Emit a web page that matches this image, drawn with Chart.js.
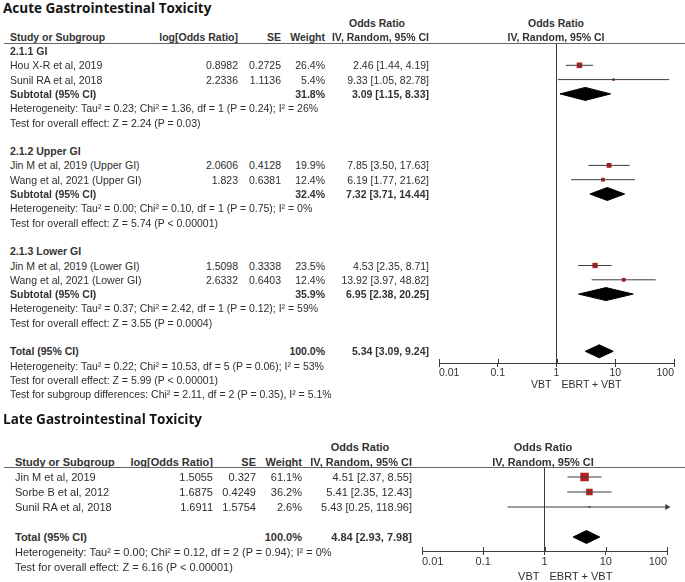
<!DOCTYPE html>
<html>
<head>
<meta charset="utf-8">
<script src="https://cdn.jsdelivr.net/npm/chart.js@4.4.1/dist/chart.umd.min.js"></script>
<style>
  html, body { margin: 0; padding: 0; background: #fff; }
  body { width: 685px; height: 582px; position: relative; overflow: hidden;
         font-family: "Liberation Sans", Arial, sans-serif; color: #2e2e2e; }
  .t { position: absolute; white-space: nowrap; line-height: 13px; transform: translateY(-50%); }
  .b { font-weight: bold; color: #333; }
  .title { position: absolute; white-space: nowrap; font-family: "Open Sans", sans-serif;
           font-weight: bold; font-size: 13.5px; color: #151515; transform: translateY(-50%); }
  .rule { position: absolute; height: 1px; background: #666; }
  canvas { position: absolute; }
</style>
</head>
<body>
<canvas id="acuteChart"></canvas>
<canvas id="lateChart"></canvas>
<script>
// ---- acute GI toxicity ----
const ACUTE_STUDY = ['Hou X-R et al, 2019', 'Sunil RA et al, 2018', 'Jin M et al, 2019 (Upper GI)',
  'Wang et al, 2021 (Upper GI)', 'Jin M et al, 2019 (Lower GI)', 'Wang et al, 2021 (Lower GI)'];
const ACUTE_GROUP = [0, 0, 1, 1, 2, 2];
const ACUTE_LOG_OR = [0.8982, 2.2336, 2.0606, 1.823, 1.5098, 2.6332];
const ACUTE_SE = [0.2725, 1.1136, 0.4128, 0.6381, 0.3338, 0.6403];
const ACUTE_WEIGHT = [26.4, 5.4, 19.9, 12.4, 23.5, 12.4];
const ACUTE_OR = [2.46, 9.33, 7.85, 6.19, 4.53, 13.92];
const ACUTE_LO = [1.44, 1.05, 3.50, 1.77, 2.35, 3.97];
const ACUTE_HI = [4.19, 82.78, 17.63, 21.62, 8.71, 48.82];

const ACUTE_SUB_NAME = ['2.1.1 GI', '2.1.2 Upper GI', '2.1.3 Lower GI'];
const ACUTE_SUB_WEIGHT = [31.8, 32.4, 35.9];
const ACUTE_SUB_OR = [3.09, 7.32, 6.95];
const ACUTE_SUB_LO = [1.15, 3.71, 2.38];
const ACUTE_SUB_HI = [8.33, 14.44, 20.25];
const ACUTE_SUB_HET = [
  'Heterogeneity: Tau² = 0.23; Chi² = 1.36, df = 1 (P = 0.24); I² = 26%',
  'Heterogeneity: Tau² = 0.00; Chi² = 0.10, df = 1 (P = 0.75); I² = 0%',
  'Heterogeneity: Tau² = 0.37; Chi² = 2.42, df = 1 (P = 0.12); I² = 59%'];
const ACUTE_SUB_TEST = [
  'Test for overall effect: Z = 2.24 (P = 0.03)',
  'Test for overall effect: Z = 5.74 (P < 0.00001)',
  'Test for overall effect: Z = 3.55 (P = 0.0004)'];

const ACUTE_TOTAL = [5.34, 3.09, 9.24]; // OR, lower, upper
const ACUTE_TOTAL_NOTES = [
  'Heterogeneity: Tau² = 0.22; Chi² = 10.53, df = 5 (P = 0.06); I² = 53%',
  'Test for overall effect: Z = 5.99 (P < 0.00001)',
  'Test for subgroup differences: Chi² = 2.11, df = 2 (P = 0.35), I² = 5.1%'];

// ---- late GI toxicity ----
const LATE_STUDY = ['Jin M et al, 2019', 'Sorbe B et al, 2012', 'Sunil RA et al, 2018'];
const LATE_LOG_OR = [1.5055, 1.6875, 1.6911];
const LATE_SE = [0.327, 0.4249, 1.5754];
const LATE_WEIGHT = [61.1, 36.2, 2.6];
const LATE_OR = [4.51, 5.41, 5.43];
const LATE_LO = [2.37, 2.35, 0.25];
const LATE_HI = [8.55, 12.43, 118.96];
const LATE_TOTAL = [4.84, 2.93, 7.98];
const LATE_TOTAL_NOTES = [
  'Heterogeneity: Tau² = 0.00; Chi² = 0.12, df = 2 (P = 0.94); I² = 0%',
  'Test for overall effect: Z = 6.16 (P < 0.00001)'];

const OR_TICKS = [0.01, 0.1, 1, 10, 100];
const FAVOURS = ['VBT', 'EBRT + VBT'];

// layout (pixels)
const PAGE_W = 685;
const LINE = '#3c3c3c';
const SQUARE = '#b3221f';
const acuteL = { title: 'Acute Gastrointestinal Toxicity', titleY: 8, headY: [23, 37], rule: 43,
  row0: 51, rowH: 14.3, font: 10.5,
  cols: { study: 10, logor: 238, se: 281, weight: 325, or: 429, orHead: 377 },
  plotHead: 556, axisL: 439, axisR: 674, plotTop: 43, plotBottom: 363, favY: 384 };
const lateL = { title: 'Late Gastrointestinal Toxicity', titleY: 419, headY: [447, 462], rule: 467,
  row0: 477, rowH: 15, font: 11,
  cols: { study: 15, logor: 213, se: 256, weight: 302, or: 412, orHead: 360 },
  plotHead: 543, axisL: 422, axisR: 667, plotTop: 467, plotBottom: 551, favY: 576 };

function txt(s, x, y, align, size, bold) {
  const d = document.createElement('div');
  d.className = 't' + (bold ? ' b' : '');
  d.textContent = s;
  d.style.fontSize = size + 'px';
  d.style.top = y + 'px';
  if (align === 'right') d.style.right = (PAGE_W - x) + 'px';
  else if (align === 'center') { d.style.left = x + 'px'; d.style.transform = 'translate(-50%,-50%)'; }
  else d.style.left = x + 'px';
  document.body.appendChild(d);
}

function ciText(or, lo, hi) {
  return or.toFixed(2) + ' [' + lo.toFixed(2) + ', ' + hi.toFixed(2) + ']';
}

function header(L) {
  const t = document.createElement('div');
  t.className = 'title';
  t.textContent = L.title;
  t.style.left = '3px';
  t.style.top = L.titleY + 'px';
  document.body.appendChild(t);
  const c = L.cols, f = L.font;
  txt('Odds Ratio', c.orHead, L.headY[0], 'center', f, true);
  txt('Odds Ratio', L.plotHead, L.headY[0], 'center', f, true);
  txt('Study or Subgroup', c.study, L.headY[1], 'left', f, true);
  txt('log[Odds Ratio]', c.logor, L.headY[1], 'right', f, true);
  txt('SE', c.se, L.headY[1], 'right', f, true);
  txt('Weight', c.weight, L.headY[1], 'right', f, true);
  txt('IV, Random, 95% CI', c.or, L.headY[1], 'right', f, true);
  txt('IV, Random, 95% CI', L.plotHead, L.headY[1], 'center', f, true);
  const r = document.createElement('div');
  r.className = 'rule';
  r.style.left = '4px';
  r.style.width = (PAGE_W - 4) + 'px';
  r.style.top = L.rule + 'px';
  document.body.appendChild(r);
  const one = L.axisL + (L.axisR - L.axisL) / 2;
  txt(FAVOURS[0], one - 5, L.favY, 'right', f, false);
  txt(FAVOURS[1], one + 5, L.favY, 'left', f, false);
}

function rowY(L, slot) { return L.row0 + L.rowH * slot; }

function studyRow(L, slot, name, logor, se, w, or, lo, hi) {
  const y = rowY(L, slot), c = L.cols, f = L.font;
  txt(name, c.study, y, 'left', f, false);
  txt(String(logor), c.logor, y, 'right', f, false);
  txt(String(se), c.se, y, 'right', f, false);
  txt(w.toFixed(1) + '%', c.weight, y, 'right', f, false);
  txt(ciText(or, lo, hi), c.or, y, 'right', f, false);
}

function summaryRow(L, slot, name, w, or, lo, hi) {
  const y = rowY(L, slot), c = L.cols, f = L.font;
  txt(name, c.study, y, 'left', f, true);
  txt(w.toFixed(1) + '%', c.weight, y, 'right', f, true);
  txt(ciText(or, lo, hi), c.or, y, 'right', f, true);
}

function noteRow(L, slot, s) { txt(s, L.cols.study, rowY(L, slot), 'left', L.font, false); }

// RevMan style ticks poke above the axis line as well
const upTicks = {
  id: 'upTicks',
  afterDraw(chart) {
    const x = chart.scales.x, ctx = chart.ctx, y = chart.chartArea.bottom;
    ctx.save();
    ctx.strokeStyle = LINE;
    ctx.lineWidth = 1;
    x.ticks.forEach(t => {
      const px = Math.round(x.getPixelForValue(t.value)) + 0.5;
      ctx.beginPath();
      ctx.moveTo(px, y - 4);
      ctx.lineTo(px, y);
      ctx.stroke();
    });
    ctx.restore();
  }
};

function forestChart(id, L, marks, diamonds) {
  const padL = 25, padR = PAGE_W - L.axisR, padT = 10, axisH = 30;
  const left = L.axisL - padL, top = L.plotTop - padT;
  const height = Math.min(582, L.plotBottom + axisH + 8) - top;
  const canvas = document.getElementById(id);
  canvas.width = PAGE_W - left;
  canvas.height = height;
  canvas.style.left = left + 'px';
  canvas.style.top = top + 'px';
  const padB = height - (L.plotBottom - top) - axisH;

  const datasets = [];
  marks.forEach(m => {
    datasets.push({ data: [{ x: m.lo, y: m.slot }, { x: m.hi, y: m.slot }], showLine: true,
      borderColor: LINE, borderWidth: 1, pointRadius: 0 });
  });
  diamonds.forEach(d => {
    const h = 6.5 / L.rowH;
    datasets.push({ data: [{ x: d.lo, y: d.slot }, { x: d.or, y: d.slot - h }, { x: d.hi, y: d.slot },
      { x: d.or, y: d.slot + h }, { x: d.lo, y: d.slot }], showLine: true, fill: 'shape',
      backgroundColor: '#000', borderColor: '#000', borderWidth: 1, pointRadius: 0, tension: 0 });
  });
  datasets.push({ data: marks.map(m => ({ x: m.or, y: m.slot })), pointStyle: 'rect',
    pointRadius: marks.map(m => 0.77 * Math.sqrt(m.w)), backgroundColor: SQUARE, borderWidth: 0 });
  const over = marks.filter(m => m.hi > OR_TICKS[OR_TICKS.length - 1]);
  if (over.length) {
    datasets.push({ data: over.map(m => ({ x: OR_TICKS[OR_TICKS.length - 1], y: m.slot })),
      pointStyle: 'triangle', rotation: 90, pointRadius: 3.5, backgroundColor: LINE, borderWidth: 0, clip: false });
  }

  return new Chart(canvas.getContext('2d'), {
    type: 'scatter',
    data: { datasets: datasets },
    options: {
      responsive: false,
      animation: false,
      layout: { padding: { left: padL, right: padR, top: padT, bottom: padB } },
      plugins: { legend: { display: false }, tooltip: { enabled: false } },
      scales: {
        x: {
          type: 'logarithmic',
          min: OR_TICKS[0],
          max: OR_TICKS[OR_TICKS.length - 1],
          afterBuildTicks: axis => { axis.ticks = OR_TICKS.map(v => ({ value: v })); },
          afterFit: axis => { axis.height = axisH; },
          ticks: { callback: v => String(v), autoSkip: false, maxRotation: 0, padding: 0, align: 'inner',
            color: '#333', font: { family: 'Liberation Sans', size: L.font } },
          grid: { color: c => (c.tick && c.tick.value === 1) ? LINE : 'rgba(0,0,0,0)',
            tickColor: LINE, tickLength: 4, lineWidth: 1 },
          border: { color: LINE, width: 1 }
        },
        y: {
          type: 'linear',
          display: false,
          reverse: true,
          min: (L.plotTop - L.row0) / L.rowH,
          max: (L.plotBottom - L.row0) / L.rowH
        }
      }
    },
    plugins: [upTicks]
  });
}

// ---- acute table ----
header(acuteL);
let slot = 0;
const acuteMarks = [], acuteDiamonds = [];
ACUTE_SUB_NAME.forEach((g, gi) => {
  txt(g, acuteL.cols.study, rowY(acuteL, slot), 'left', acuteL.font, true);
  slot++;
  ACUTE_STUDY.forEach((s, i) => {
    if (ACUTE_GROUP[i] !== gi) return;
    studyRow(acuteL, slot, s, ACUTE_LOG_OR[i], ACUTE_SE[i], ACUTE_WEIGHT[i], ACUTE_OR[i], ACUTE_LO[i], ACUTE_HI[i]);
    acuteMarks.push({ slot: slot, or: ACUTE_OR[i], lo: ACUTE_LO[i], hi: ACUTE_HI[i], w: ACUTE_WEIGHT[i] });
    slot++;
  });
  summaryRow(acuteL, slot, 'Subtotal (95% CI)', ACUTE_SUB_WEIGHT[gi], ACUTE_SUB_OR[gi], ACUTE_SUB_LO[gi], ACUTE_SUB_HI[gi]);
  acuteDiamonds.push({ slot: slot, or: ACUTE_SUB_OR[gi], lo: ACUTE_SUB_LO[gi], hi: ACUTE_SUB_HI[gi] });
  slot++;
  noteRow(acuteL, slot++, ACUTE_SUB_HET[gi]);
  noteRow(acuteL, slot++, ACUTE_SUB_TEST[gi]);
  slot++;
});
summaryRow(acuteL, slot, 'Total (95% CI)', 100, ACUTE_TOTAL[0], ACUTE_TOTAL[1], ACUTE_TOTAL[2]);
acuteDiamonds.push({ slot: slot, or: ACUTE_TOTAL[0], lo: ACUTE_TOTAL[1], hi: ACUTE_TOTAL[2] });
slot++;
ACUTE_TOTAL_NOTES.forEach(n => noteRow(acuteL, slot++, n));
forestChart('acuteChart', acuteL, acuteMarks, acuteDiamonds);

// ---- late table ----
header(lateL);
const lateMarks = [];
LATE_STUDY.forEach((s, i) => {
  studyRow(lateL, i, s, LATE_LOG_OR[i], LATE_SE[i], LATE_WEIGHT[i], LATE_OR[i], LATE_LO[i], LATE_HI[i]);
  lateMarks.push({ slot: i, or: LATE_OR[i], lo: LATE_LO[i], hi: LATE_HI[i], w: LATE_WEIGHT[i] });
});
slot = LATE_STUDY.length + 1;
summaryRow(lateL, slot, 'Total (95% CI)', 100, LATE_TOTAL[0], LATE_TOTAL[1], LATE_TOTAL[2]);
const lateDiamonds = [{ slot: slot, or: LATE_TOTAL[0], lo: LATE_TOTAL[1], hi: LATE_TOTAL[2] }];
slot++;
LATE_TOTAL_NOTES.forEach(n => noteRow(lateL, slot++, n));
forestChart('lateChart', lateL, lateMarks, lateDiamonds);
</script>
</body>
</html>
